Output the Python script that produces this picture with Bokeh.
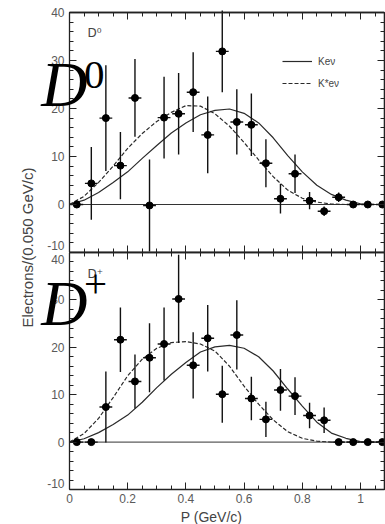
import math

from bokeh.embed import file_html
from bokeh.layouts import column, row
from bokeh.models import (ColumnDataSource, FixedTicker, Label, Legend, LegendItem,
                          LinearAxis, NumeralTickFormatter, Range1d)
from bokeh.plotting import figure
from bokeh.resources import INLINE

# Electron momentum bins (bin centres, GeV/c); bins are 0.050 GeV/c wide
p_bins = [0.025, 0.075, 0.125, 0.175, 0.225, 0.275, 0.325, 0.375, 0.425, 0.475, 0.525,
          0.575, 0.625, 0.675, 0.725, 0.775, 0.825, 0.875, 0.925, 0.975, 1.025, 1.075]
bin_half_width = 0.022

# D0 sample: electrons per bin and their errors
d0_counts = [0, 4.4, 18.0, 8.1, 22.2, -0.2, 18.1, 18.9, 23.4, 14.5, 31.9,
             17.2, 16.6, 8.6, 1.2, 6.4, 0.8, -1.4, 1.5, 0, 0, 0]
d0_errors = [0, 7.6, 11.0, 7.0, 8.1, 9.6, 8.5, 8.5, 8.3, 8.0, 8.5,
             6.8, 6.5, 5.0, 3.1, 4.0, 1.8, 1.0, 1.0, 0, 0, 0]

# D+ sample
dplus_counts = [0, 0, 7.4, 21.6, 12.8, 17.8, 20.7, 30.2, 16.2, 21.9, 10.1,
                22.6, 9.2, 4.8, 11.0, 9.7, 5.6, 4.6, 0, 0, 0, 0]
dplus_errors = [0, 0, 7.5, 6.8, 5.7, 7.3, 7.7, 9.3, 7.0, 7.0, 6.0,
                7.3, 4.6, 3.7, 4.4, 4.0, 2.7, 2.7, 0, 0, 0, 0]

# Model spectra (K e nu and K* e nu), sampled every 0.05 GeV/c
curve_p = [0.0, 0.05, 0.10, 0.15, 0.20, 0.25, 0.30, 0.35, 0.40, 0.45, 0.50, 0.55,
           0.60, 0.65, 0.70, 0.75, 0.80, 0.85, 0.90, 0.95, 1.00, 1.05, 1.10]
d0_kenu = [0, 0.9, 2.5, 4.6, 6.8, 9.6, 12.3, 14.9, 17.0, 18.7, 19.6, 19.9,
           19.0, 17.0, 13.9, 10.2, 6.8, 4.0, 2.1, 0.9, 0.15, 0, 0]
d0_kstarenu = [0, 1.7, 4.6, 8.0, 11.7, 14.8, 17.3, 19.2, 20.6, 20.5, 18.9, 16.3,
               12.9, 9.3, 5.8, 3.0, 1.3, 0.5, 0.1, 0, 0, 0, 0]
dplus_kenu = [0, 0.7, 2.0, 3.7, 5.7, 8.4, 11.5, 14.3, 16.8, 19.0, 20.1, 20.4,
              19.8, 18.0, 15.0, 11.2, 7.6, 4.2, 1.9, 0.8, 0.1, 0, 0]
dplus_kstarenu = [0, 1.8, 5.0, 9.4, 14.0, 17.5, 19.8, 21.0, 21.2, 20.7, 19.2, 16.0,
                  11.8, 8.0, 4.7, 2.2, 0.8, 0.2, 0, 0, 0, 0, 0]

# Tick positions
x_major_ticks = [0, 0.2, 0.4, 0.6, 0.8, 1.0]
x_minor_ticks = [0.05 * i for i in range(22)]
y_major_ticks = [-10, 0, 10, 20, 30, 40]
y_minor_ticks = [-10 + 2 * i for i in range(26)]

legend_labels = ["Ke\u03bd", "K*e\u03bd"]
x_title = "P (GeV/c)"
y_title = "Electrons/(0.050 GeV/c)"

INK = "#222222"
TICK_GREY = "#5a5a5a"
P_MAX = 1.0825
X_RANGE = (-0.1065, P_MAX)   # left margin of the frame holds the y tick labels
Y_LIMITS = (-10, 40)


def base_axis(ax):
    ax.axis_line_color = INK
    ax.axis_line_width = 1.3
    ax.major_tick_line_color = INK
    ax.minor_tick_line_color = INK
    ax.major_tick_in = 7
    ax.major_tick_out = 0
    ax.minor_tick_in = 4
    ax.minor_tick_out = 0
    ax.major_label_text_font = "Liberation Sans"
    ax.major_label_text_font_size = "12px"
    ax.major_label_text_color = TICK_GREY
    ax.major_label_standoff = 5


def tick_only_axes(p, side, majors, minors, bounds, fixed=None):
    # unlabeled axes on one side: short ticks everywhere, long ones at majors
    for ticks, length in ((minors, 4), (majors, 7)):
        ax = LinearAxis(ticker=FixedTicker(ticks=[], minor_ticks=ticks), bounds=bounds)
        base_axis(ax)
        ax.minor_tick_in = length
        ax.major_label_standoff = 0
        if fixed is not None:
            ax.fixed_location = fixed
        p.add_layout(ax, side)


def make_panel(counts, errors, kenu, kstar, y_range, frame_h, border_top,
               border_bottom, bottom_labels, y_labelled):
    p = figure(frame_width=346, frame_height=frame_h,
               x_range=Range1d(*X_RANGE), y_range=Range1d(*y_range),
               output_backend="svg", toolbar_location=None,
               min_border_left=0, min_border_right=1,
               min_border_top=border_top, min_border_bottom=border_bottom,
               background_fill_color="white", border_fill_color="white",
               outline_line_color=None)
    p.xgrid.visible = False
    p.ygrid.visible = False

    # left axis drawn at P = 0, its numbers sit in the frame margin
    yax = p.yaxis[0]
    yax.ticker = FixedTicker(ticks=y_labelled, minor_ticks=y_minor_ticks)
    yax.fixed_location = 0
    yax.bounds = Y_LIMITS
    base_axis(yax)

    xax = p.xaxis[0]
    xax.bounds = (0, P_MAX)
    if bottom_labels:
        xax.ticker = FixedTicker(ticks=x_major_ticks, minor_ticks=x_minor_ticks)
        xax.formatter = NumeralTickFormatter(format="0.[0]")
        base_axis(xax)
        xax.major_label_standoff = 4
        xax.axis_label = x_title
        xax.axis_label_text_font = "Liberation Sans"
        xax.axis_label_text_font_size = "14px"
        xax.axis_label_text_font_style = "normal"
        xax.axis_label_text_color = "#444444"
        xax.axis_label_standoff = 3
    else:
        xax.ticker = FixedTicker(ticks=[], minor_ticks=x_minor_ticks)
        base_axis(xax)
        xax.major_label_standoff = 0
        tick_only_axes(p, "below", x_major_ticks, [], (0, P_MAX))

    top_fixed = Y_LIMITS[1] if y_range[1] > Y_LIMITS[1] else None
    tick_only_axes(p, "above", x_major_ticks, x_minor_ticks, (0, P_MAX), top_fixed)
    tick_only_axes(p, "right", y_major_ticks, y_minor_ticks, Y_LIMITS)

    # zero baseline
    p.segment(x0=[0], y0=[0], x1=[P_MAX], y1=[0], line_color="#333333", line_width=1)

    p.line(curve_p, kenu, line_color="#2a2a2a", line_width=1.2)
    p.line(curve_p, kstar, line_color="#2a2a2a", line_width=1.2, line_dash="4 2")

    src = ColumnDataSource(dict(
        x=p_bins, y=counts,
        lo=[c - e for c, e in zip(counts, errors)],
        hi=[c + e for c, e in zip(counts, errors)],
        left=[x - bin_half_width for x in p_bins],
        right=[x + bin_half_width for x in p_bins],
    ))
    p.segment("x", "lo", "x", "hi", source=src, line_color="#111111", line_width=1.4)
    p.segment("left", "y", "right", "y", source=src, line_color="#111111",
              line_width=1.4)
    p.scatter("x", "y", source=src, size=7, fill_color="black", line_color="black")
    return p


# upper panel: a few pixels of headroom above 40 keep its top tick label whole
top = make_panel(d0_counts, d0_errors, d0_kenu, d0_kstarenu, (-10, 40 + 7 / 4.8),
                 247, 5, 0, False, [t for t in y_major_ticks if t != -10])
bottom = make_panel(dplus_counts, dplus_errors, dplus_kenu, dplus_kstarenu, Y_LIMITS,
                    237, 0, 35, True, [t for t in y_major_ticks if t not in (-10, 40)])


def edge_label(fig, y, text):
    fig.add_layout(Label(x=-0.017, y=y, text=text, text_align="right",
                         text_baseline="middle", text_font="Liberation Sans",
                         text_font_size="12px", text_color=TICK_GREY))


# edge tick labels nudged inside their own panel
edge_label(top, -8.6, "-10")
edge_label(bottom, 38.5, "40")
edge_label(bottom, -8.8, "-10")

# legend (top panel)
line_renderers = [r for r in top.renderers if r.glyph.__class__.__name__ == "Line"]
legend = Legend(items=[LegendItem(label=legend_labels[0], renderers=[line_renderers[0]]),
                       LegendItem(label=legend_labels[1], renderers=[line_renderers[1]])],
                location=(244, 163), padding=0, margin=0, spacing=10,
                glyph_width=30, glyph_height=12, label_height=12, label_standoff=6,
                label_text_font="Liberation Sans", label_text_font_size="10px",
                label_text_color="#444444", border_line_alpha=0,
                background_fill_alpha=0)
top.add_layout(legend)

# panel tags (anchored at the bottom of each text box)
for fig, sup, sup_y, tag_y, big_y, small in (
        (top, "0", 24.2, 34.2, 17.7, "D\u2070"),
        (bottom, "+", 30.6, 34.0, 21.75, "D\u207a")):
    fig.add_layout(Label(x=0.062, y=tag_y, text=small, text_font="DejaVu Sans",
                         text_font_size="12px", text_color="#444444",
                         text_baseline="bottom"))
    fig.add_layout(Label(x=-0.097, y=big_y, text="D", text_font="Liberation Serif",
                         text_font_style="italic", text_font_size="64px",
                         text_color="black", text_baseline="bottom"))
    fig.add_layout(Label(x=0.05, y=sup_y, text=sup, text_font="Liberation Serif",
                         text_font_size="41px", text_color="black",
                         text_baseline="bottom"))

# shared y title
ylab = figure(width=38, height=524, x_range=Range1d(0, 38), y_range=Range1d(0, 524),
              output_backend="svg", toolbar_location=None, min_border=0,
              outline_line_color=None, background_fill_color="white",
              border_fill_color="white")
ylab.axis.visible = False
ylab.grid.visible = False
ylab.add_layout(Label(x=27, y=277, text=y_title, angle=math.pi / 2,
                      text_align="center", text_baseline="middle",
                      text_font="Liberation Sans", text_font_size="15px",
                      text_color="#444444"))

layout = row(ylab, column(top, bottom, spacing=0), spacing=0)

with open("out.html", "w") as f:
    f.write(file_html(layout, INLINE))
